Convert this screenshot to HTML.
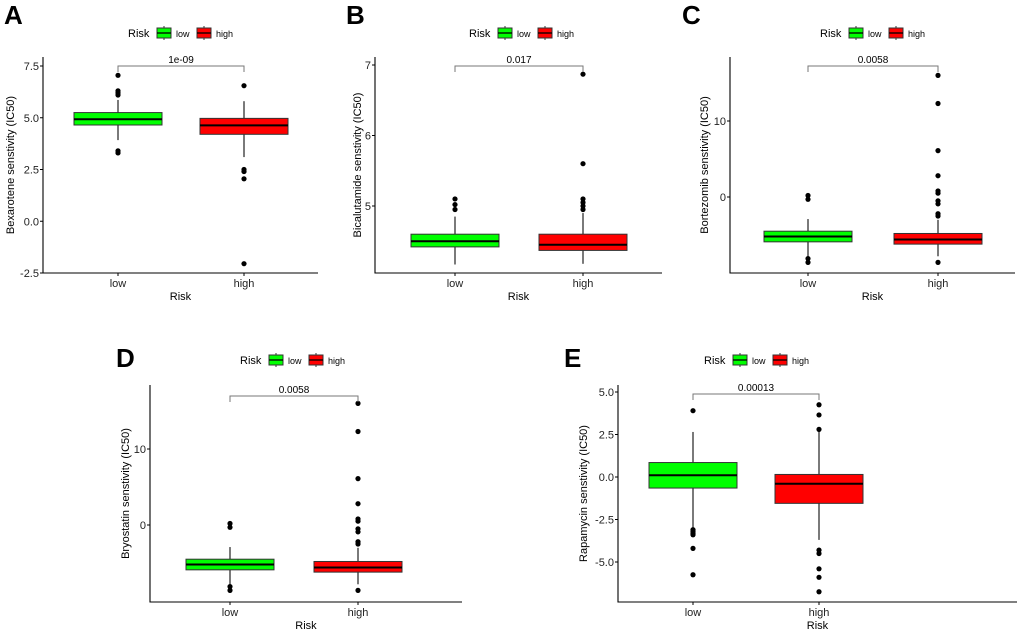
<!DOCTYPE html>
<html><head><meta charset="utf-8"><style>
body{margin:0;background:#fff;}
svg{display:block;font-family:"Liberation Sans",Arial,sans-serif;}
</style></head><body>
<svg id="fig" width="1020" height="632" viewBox="0 0 1020 632"></svg>
<script>
// Panel data arrays
const groups = ["low","high"];
const aTicks = [-2.5,0.0,2.5,5.0,7.5];
const aLow = [3.92,4.65,4.93,5.25,5.86];
const aHigh = [3.1,4.2,4.63,4.97,5.8];
const aLowOut = [7.05,6.3,6.2,6.1,3.4,3.3];
const aHighOut = [6.55,2.5,2.4,2.05,-2.05];
const bTicks = [5,6,7];
const bLow = [4.17,4.42,4.5,4.6,4.85];
const bHigh = [4.18,4.37,4.45,4.6,4.9];
const bLowOut = [4.95,5.02,5.1];
const bHighOut = [4.95,5.0,5.05,5.1,5.6,6.87];
const cTicks = [0,10];
const cLow = [-7.9,-5.9,-5.2,-4.5,-2.9];
const cHigh = [-7.8,-6.2,-5.6,-4.8,-3.0];
const cLowOut = [0.2,-0.3,-8.1,-8.6];
const cHighOut = [16,12.3,6.1,2.8,0.8,0.5,-0.5,-0.9,-2.2,-2.5,-8.6];
const eTicks = [-5.0,-2.5,0.0,2.5,5.0];
const eLow = [-3.0,-0.65,0.1,0.85,2.65];
const eHigh = [-3.7,-1.55,-0.4,0.15,2.7];
const eLowOut = [3.9,-3.1,-3.2,-3.3,-3.4,-4.2,-5.75];
const eHighOut = [4.25,3.65,2.8,-4.3,-4.5,-5.4,-5.9,-6.75];

const NS="http://www.w3.org/2000/svg";
const svg=document.getElementById('fig');
function mk(tag,attrs,parent,txt){const e=document.createElementNS(NS,tag);for(const k in attrs)e.setAttribute(k,attrs[k]);if(txt!==undefined)e.textContent=txt;(parent||svg).appendChild(e);return e;}

function panel(p){
  const g=mk('g',{});
  
  
  const y=v=>p.y0px-(v-p.y0v)*p.ppu;
  const x=i=>p.xc[i];
  const lt=mk('text',{x:p.lx,y:p.ly,'font-size':26,'font-weight':'bold',fill:'#000'},g,p.letter);
  
  
  const lg=mk('g',{},g);
  
  
  mk('text',{x:p.legX,y:p.legY+4,'font-size':11,fill:'#000'},lg,'Risk');
  const cols=['#00ff00','#ff0000'];
  [0,1].forEach(i=>{
    const kx=p.legX+29+i*40;
    const key=mk('g',{},lg);
    
    
    mk('line',{x1:kx+7,x2:kx+7,y1:p.legY-7,y2:p.legY+7,stroke:'#333','stroke-width':1},key);
    mk('rect',{x:kx,y:p.legY-5,width:14,height:10,fill:cols[i],stroke:'#333','stroke-width':1},key);
    mk('line',{x1:kx,x2:kx+14,y1:p.legY,y2:p.legY,stroke:'#000','stroke-width':1.3},key);
    mk('text',{x:kx+19,y:p.legY+4,'font-size':9,fill:'#000'},key,groups[i]);
  });
  const ax=mk('path',{d:`M${p.ax},${p.top}V${p.bot}H${p.axR}`,fill:'none',stroke:'#000','stroke-width':1.1},g);
  
  
  p.ticks.forEach(t=>{
    mk('line',{x1:p.ax-3,x2:p.ax,y1:y(t),y2:y(t),stroke:'#000'},g);
    const tl=mk('text',{x:p.ax-4,y:y(t)+4,'text-anchor':'end','font-size':11,fill:'#222'},g,p.fmt(t));
    
    
  });
  [0,1].forEach(i=>{
    mk('line',{x1:x(i),x2:x(i),y1:p.bot,y2:p.bot+3,stroke:'#000'},g);
    const tl=mk('text',{x:x(i),y:p.bot+14,'text-anchor':'middle','font-size':11,fill:'#222'},g,groups[i]);
    
    
  });
  const xt=mk('text',{x:(p.ax+p.axR)/2,y:p.bot+27,'text-anchor':'middle','font-size':11,fill:'#000'},g,'Risk');
  
  
  const yt=mk('text',{x:0,y:0,transform:`translate(${p.ytx},${(p.top+p.bot)/2}) rotate(-90)`,'text-anchor':'middle','font-size':11,fill:'#000'},g,p.ytitle);
  
  
  [[p.low,p.lowOut],[p.high,p.highOut]].forEach((d,i)=>{
    const s=d[0],hw=44;
    const bg=mk('g',{},g);
    
    
    mk('line',{x1:x(i),x2:x(i),y1:y(s[0]),y2:y(s[4]),stroke:'#333','stroke-width':1.3},bg);
    mk('rect',{x:x(i)-hw,y:y(s[3]),width:hw*2,height:y(s[1])-y(s[3]),fill:cols[i],stroke:'#333','stroke-width':1},bg);
    mk('line',{x1:x(i)-hw,x2:x(i)+hw,y1:y(s[2]),y2:y(s[2]),stroke:'#000','stroke-width':2},bg);
    d[1].forEach(v=>{
      const c=mk('circle',{cx:x(i),cy:y(v),r:2.6,fill:'#000'},bg);
      
      
    });
  });
  const br=mk('path',{d:`M${x(0)},${p.brY+6}V${p.brY}H${x(1)}V${p.brY+6}`,fill:'none',stroke:'#777','stroke-width':1},g);
  
  
  const pv=mk('text',{x:(x(0)+x(1))/2,y:p.brY-3,'text-anchor':'middle','font-size':10,fill:'#000'},g,p.pval);
  
  
}
const f1=t=>t.toFixed(1), f0=t=>String(t);
panel({letter:'A',lx:4,ly:24,legX:128,legY:33,ax:43,axR:318,top:57,bot:273,y0v:-2.5,y0px:273,ppu:20.7,xc:[118,244],ticks:aTicks,fmt:f1,ytx:14,ytitle:'Bexarotene senstivity (IC50)',low:aLow,high:aHigh,lowOut:aLowOut,highOut:aHighOut,brY:66,pval:'1e-09'});
panel({letter:'B',lx:346,ly:24,legX:469,legY:33,ax:375,axR:662,top:57,bot:273,y0v:7,y0px:65,ppu:70.5,xc:[455,583],ticks:bTicks,fmt:f0,ytx:361,ytitle:'Bicalutamide senstivity (IC50)',low:bLow,high:bHigh,lowOut:bLowOut,highOut:bHighOut,brY:66,pval:'0.017'});
panel({letter:'C',lx:682,ly:24,legX:820,legY:33,ax:730,axR:1015,top:57,bot:273,y0v:0,y0px:197,ppu:7.6,xc:[808,938],ticks:cTicks,fmt:f0,ytx:708,ytitle:'Bortezomib senstivity (IC50)',low:cLow,high:cHigh,lowOut:cLowOut,highOut:cHighOut,brY:66,pval:'0.0058'});
panel({letter:'D',lx:116,ly:367,legX:240,legY:360,ax:150,axR:462,top:385,bot:602,y0v:0,y0px:525,ppu:7.6,xc:[230,358],ticks:cTicks,fmt:f0,ytx:129,ytitle:'Bryostatin senstivity (IC50)',low:cLow,high:cHigh,lowOut:cLowOut,highOut:cHighOut,brY:396,pval:'0.0058'});
panel({letter:'E',lx:564,ly:367,legX:704,legY:360,ax:618,axR:1017,top:385,bot:602,y0v:0,y0px:477,ppu:17,xc:[693,819],ticks:eTicks,fmt:f1,ytx:587,ytitle:'Rapamycin senstivity (IC50)',low:eLow,high:eHigh,lowOut:eLowOut,highOut:eHighOut,brY:394,pval:'0.00013'});
</script>
</body></html>
